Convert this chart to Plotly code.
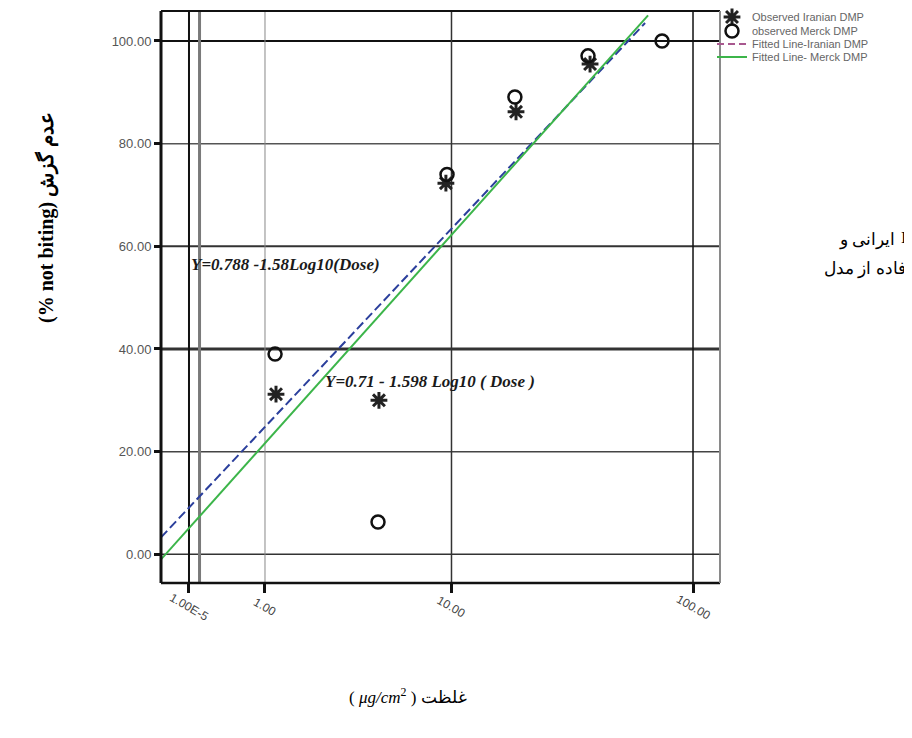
import plotly.graph_objects as go

# ---------------- data ----------------
# x-axis is drawn non-uniformly in the source: positions are in axis units
# where the "1.00" tick sits at 0 and the "10.00" tick at 1.
x_tick_pos = [-0.4075, 0.0, 1.0, 2.295]
x_tick_text = ["1.00E-5", "1.00", "10.00", "100.00"]
x_extra_line = [-0.351]
y_tick_vals = [0, 20, 40, 60, 80, 100]
y_tick_text = ["0.00", "20.00", "40.00", "60.00", "80.00", "100.00"]

iran_x = [0.059, 0.611, 0.970, 1.346, 1.743]
iran_y = [31.2, 30.0, 72.3, 86.2, 95.5]
merck_x = [0.054, 0.606, 0.976, 1.340, 1.732, 2.129]
merck_y = [39.0, 6.3, 74.0, 89.1, 97.1, 100.0]

fit_iran_x = [-0.5576, 2.038]
fit_iran_y = [3.3, 103.5]
fit_merck_x = [-0.5576, 2.054]
fit_merck_y = [-1.0, 105.0]

x_range = [-0.5576, 2.4397]
y_range = [-5.59, 105.84]

legend_names = ["Observed Iranian DMP", "observed Merck DMP",
                "Fitted Line-Iranian DMP", "Fitted Line- Merck DMP"]
eq_iran = "Y=0.788 -1.58Log10(Dose)"
eq_merck = "Y=0.71 - 1.598 Log10 ( Dose )"
y_title = "(% not biting) عدم گزش"
x_title = "\u200e( <i>μg/cm</i><sup>2</sup> )\u200e غلظت"

# ---------------- geometry helpers (page pixel -> paper) ----------------
OFF = 8  # default page body margin around the figure
W, H = 912 - OFF, 738 - OFF
L, R, T, B = 161 - OFF, 720 - OFF, 11 - OFF, 583 - OFF


def px(xp):
    return (xp - OFF - L) / (W - L)


def py(yp):
    return (B - (yp - OFF)) / (B - T)


fig = go.Figure()

fig.add_trace(go.Scatter(
    x=fit_iran_x, y=fit_iran_y, mode="lines", showlegend=False,
    line=dict(color="#2b3f9c", width=2, dash="9px,4px")))
fig.add_trace(go.Scatter(
    x=fit_merck_x, y=fit_merck_y, mode="lines", name=legend_names[3],
    legend="legend4",
    line=dict(color="#3cb54a", width=2)))
fig.add_trace(go.Scatter(
    x=iran_x, y=iran_y, mode="markers", name=legend_names[0],
    legend="legend",
    marker=dict(symbol="asterisk-open", size=14,
                line=dict(color="#222222", width=3), color="#222222")))
fig.add_trace(go.Scatter(
    x=merck_x, y=merck_y, mode="markers", name=legend_names[1],
    legend="legend2",
    marker=dict(symbol="circle-open", size=13,
                line=dict(color="#111111", width=2.5), color="#111111")))
# legend key for the dashed fitted line (drawn in mauve in the source legend)
fig.add_trace(go.Scatter(
    x=[None], y=[None], mode="lines", name=legend_names[2],
    legend="legend3",
    line=dict(color="#a8588f", width=2, dash="7px,4px")))

shapes = []
# horizontal grid lines
h_styles = {0: ("#333333", 1.5), 20: ("#444444", 1.5), 40: ("#333333", 3),
            60: ("#333333", 2), 80: ("#555555", 1.5), 100: ("#111111", 2)}
for v in y_tick_vals:
    c, w = h_styles[v]
    shapes.append(dict(type="line", xref="x domain", yref="y", x0=0, x1=1,
                       y0=v, y1=v, line=dict(color=c, width=w), layer="below"))
# vertical grid lines
v_styles = [("#111111", 2), ("#888888", 1), ("#333333", 1.5), ("#111111", 1.5)]
for v, (c, w) in zip(x_tick_pos, v_styles):
    shapes.append(dict(type="line", xref="x", yref="y domain", x0=v, x1=v,
                       y0=0, y1=1, line=dict(color=c, width=w), layer="below"))
for v in x_extra_line:
    shapes.append(dict(type="line", xref="x", yref="y domain", x0=v, x1=v,
                       y0=0, y1=1, line=dict(color="#7a7a7a", width=3),
                       layer="below"))
# frame
shapes += [
    dict(type="line", xref="x domain", yref="y domain", x0=0, x1=0, y0=0, y1=1,
         line=dict(color="#111111", width=3)),
    dict(type="line", xref="x domain", yref="y domain", x0=0, x1=1, y0=1, y1=1,
         line=dict(color="#111111", width=2)),
    dict(type="line", xref="x domain", yref="y domain", x0=0, x1=1, y0=0, y1=0,
         line=dict(color="#111111", width=2.5)),
    dict(type="line", xref="x domain", yref="y domain", x0=1, x1=1, y0=0, y1=1,
         line=dict(color="#8a8a8a", width=2)),
]

annotations = []
for v, t in zip(x_tick_pos, x_tick_text):
    annotations.append(dict(xref="x", yref="paper", x=v, y=py(607),
                            text=t, showarrow=False, textangle=30,
                            xanchor="center", yanchor="middle",
                            font=dict(family="Liberation Sans", size=12,
                                      color="#444444")))
eq_font = dict(family="Liberation Serif", size=17, color="#1a1a1a",
               style="italic", weight="bold")
annotations.append(dict(xref="paper", yref="paper", x=px(189), y=py(264),
                        text=eq_iran, showarrow=False, xanchor="left",
                        yanchor="middle", font=eq_font))
annotations.append(dict(xref="paper", yref="paper", x=px(323), y=py(381),
                        text=eq_merck, showarrow=False, xanchor="left",
                        yanchor="middle", font=eq_font))
annotations.append(dict(xref="paper", yref="paper", x=px(46), y=py(218),
                        text=y_title, showarrow=False, textangle=-90,
                        xanchor="center", yanchor="middle",
                        font=dict(family="Liberation Serif", size=20,
                                  color="#000000", weight="bold")))
annotations.append(dict(xref="paper", yref="paper", x=px(408), y=py(696),
                        text=x_title, showarrow=False,
                        xanchor="center", yanchor="middle",
                        font=dict(family="Liberation Serif", size=17,
                                  color="#000000")))
side_font = dict(family="Liberation Serif", size=17, color="#000000")
annotations.append(dict(xref="paper", yref="paper", x=px(897), y=py(240),
                        text="ایرانی و", showarrow=False, xanchor="right",
                        yanchor="middle", font=side_font))
annotations.append(dict(xref="paper", yref="paper", x=px(904), y=py(237),
                        text="I", showarrow=False, xanchor="center",
                        yanchor="middle", font=dict(family="Liberation Serif",
                                                    size=17, color="#000000")))
annotations.append(dict(xref="paper", yref="paper", x=px(822), y=py(269),
                        text="فاده از مدل", showarrow=False, xanchor="left",
                        yanchor="middle", font=side_font))

leg_font = dict(family="Liberation Sans", size=11, color="#666666")


def leg(yp):
    return dict(x=px(712), y=py(yp), xanchor="left", yanchor="middle",
                bgcolor="rgba(0,0,0,0)", borderwidth=0, font=leg_font,
                itemwidth=30, tracegroupgap=0)


fig.update_layout(
    width=W, height=H,
    margin=dict(l=L, r=0, t=T, b=H - B, pad=0, autoexpand=False),
    paper_bgcolor="white", plot_bgcolor="white",
    showlegend=True,
    legend=leg(17), legend2=leg(31), legend3=leg(44), legend4=leg(57),
    xaxis=dict(domain=[0, (R - L) / (W - L)], range=x_range,
               showgrid=False, zeroline=False, showline=False,
               tickvals=x_tick_pos,
               ticks="outside", ticklen=9, tickwidth=2.5, tickcolor="#111111",
               showticklabels=False),
    yaxis=dict(range=y_range, showgrid=False, zeroline=False, showline=False,
               tickvals=y_tick_vals, ticktext=y_tick_text,
               ticks="outside", ticklen=6, tickwidth=2.5, tickcolor="#111111",
               tickfont=dict(family="Liberation Sans", size=13,
                             color="#555555")),
    shapes=shapes, annotations=annotations,
)

fig.write_html("out.html")
